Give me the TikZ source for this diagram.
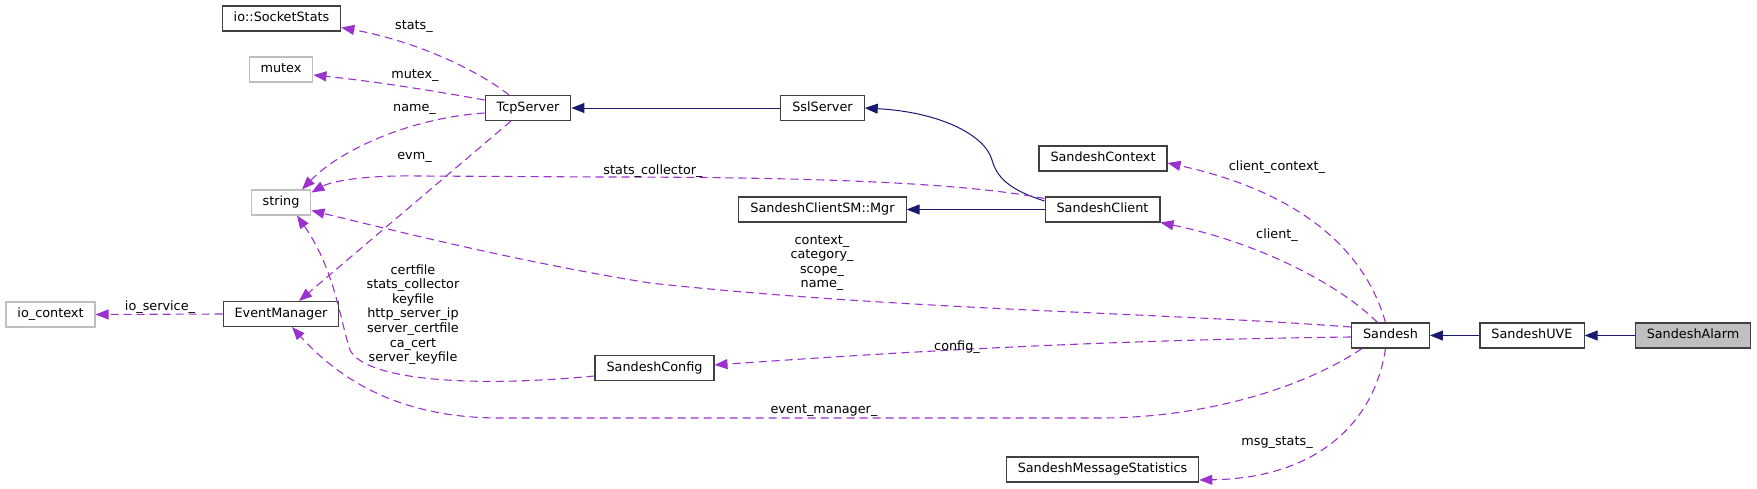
\documentclass[tikz,border=0pt]{standalone}
\usepackage{fontspec}
\setmainfont{DejaVu Sans}
\usetikzlibrary{arrows.meta,calc}
\definecolor{edgep}{HTML}{9A32CD}
\definecolor{inhc}{HTML}{191970}
\definecolor{bord}{HTML}{404040}
\definecolor{ugray}{HTML}{BFBFBF}
\begin{document}
\begin{tikzpicture}[x=1pt,y=-1pt,
  base/.style={font={\fontsize{12.8}{14.6}\selectfont}},
  box/.style={base, draw=bord, line width=1.1pt, minimum height=25pt, inner xsep=11.5pt, inner ysep=0pt, text height=9.4pt, text depth=2.8pt},
  ubox/.style={box, draw=ugray},
  lbl/.style={base, inner sep=0pt, align=center},
  dep/.style={draw=edgep, line width=1.1pt, dash pattern=on 8pt off 5pt, -{Triangle[length=13pt,width=10pt]}},
  inh/.style={draw=inhc, line width=1pt, -{Triangle[length=13pt,width=10pt]}},
]
\useasboundingbox (0,0) rectangle (1757,488);

% nodes
\node[box] (ss) at (281.5,18.5) {io::SocketStats};
\node[ubox] (mutex) at (281,69.5) {mutex};
\node[box] (tcp) at (528,108) {TcpServer};
\node[box] (ssl) at (822.5,108) {SslServer};
\node[ubox] (str) at (281,202.5) {string};
\node[box] (sctx) at (1103,158.5) {SandeshContext};
\node[box] (mgr) at (822.5,209.5) {SandeshClientSM::Mgr};
\node[box] (sc) at (1102.5,209.5) {SandeshClient};
\node[ubox] (ioc) at (50.5,314.5) {io\_context};
\node[box] (em) at (281,314) {EventManager};
\node[box] (sd) at (1390.5,335.5) {Sandesh};
\node[box] (uve) at (1532,335.5) {SandeshUVE};
\node[box, fill=ugray] (alarm) at (1693,335.5) {SandeshAlarm};
\node[box] (cfg) at (654.5,368) {SandeshConfig};
\node[box] (sms) at (1102.5,469.5) {SandeshMessageStatistics};

% inheritance
\draw[inh] (ssl.west) -- (tcp.east);
\draw[inh] ([yshift=8.5pt]sc.west) .. controls (1010,190) and (997,178) .. (992,160)
  .. controls (985,135) and (940,112) .. (ssl.east);
\draw[inh] (sc.west) -- (mgr.east);
\draw[inh] (uve.west) -- (sd.east);
\draw[inh] (alarm.west) -- (uve.east);

% usage
\draw[dep] ([xshift=-19pt]tcp.north) .. controls (480,72) and (420,42) .. ([yshift=4pt]ss.south east);
\draw[dep] ([yshift=8pt]tcp.west) .. controls (440,92) and (380,82) .. ([yshift=-5.5pt]mutex.east);
\draw[dep] ([yshift=-5pt]tcp.west) .. controls (410,118) and (340,150) .. ([xshift=21pt]str.north);
\draw[dep] ([xshift=-17pt]tcp.south) -- ([xshift=18pt]em.north);
\draw[dep] ([yshift=11pt]sc.west) .. controls (960,182) and (800,177) .. (600,177)
  -- (420,176) .. controls (360,175) and (330,182) .. ([yshift=10pt]str.east);
\draw[dep] ([xshift=-5pt]sd.north) .. controls (1365,250) and (1300,192) .. ([yshift=-4.5pt]sctx.east);
\draw[dep] ([xshift=-13pt]sd.north) .. controls (1340,285) and (1260,243) .. (sc.south east);
\draw[dep] ([yshift=8.5pt]sd.west) .. controls (1150,312) and (900,310) .. (650,283)
  .. controls (520,262) and (400,232) .. ([yshift=-8pt]str.east);
\draw[dep] ([yshift=-1.5pt]sd.west) .. controls (1100,340) and (900,352) .. ([yshift=3pt]cfg.east);
\draw[dep] ([xshift=-28.5pt]sd.south) .. controls (1300,390) and (1200,418) .. (1100,418)
  -- (500,418) .. controls (400,418) and (340,380) .. ([xshift=11pt]em.south);
\draw[dep] ([xshift=-5pt]sd.south) .. controls (1375,420) and (1320,478) .. ([yshift=-10.5pt]sms.east);
\draw[dep] ([yshift=-8pt]cfg.west) .. controls (470,388) and (365,380) .. (350,350)
  .. controls (340,320) and (335,270) .. ([xshift=16pt]str.south);
\draw[dep] (em.west) -- (ioc.east);

% labels
\node[lbl] (l1) at (414,26.7) {stats\_};
\node[lbl] (l2) at (415,76) {mutex\_};
\node[lbl] (l3) at (414.5,109) {name\_};
\node[lbl] (l4) at (414.5,157) {evm\_};
\node[lbl] (l5) at (653,171) {stats\_collector\_};
\node[lbl] (l6) at (1277,167) {client\_context\_};
\node[lbl] (l7) at (1277,235) {client\_};
\node[lbl] (l8) at (822,263) {context\_\\category\_\\scope\_\\name\_};
\node[lbl] (l9) at (957,347) {config\_};
\node[lbl] (l10) at (824,411) {event\_manager\_};
\node[lbl] (l11) at (1277,443) {msg\_stats\_};
\node[lbl] (l12) at (160,307) {io\_service\_};
\node[lbl] (l13) at (413,314.5) {certfile\\stats\_collector\\keyfile\\http\_server\_ip\\server\_certfile\\ca\_cert\\server\_keyfile};
\end{tikzpicture}
\end{document}
